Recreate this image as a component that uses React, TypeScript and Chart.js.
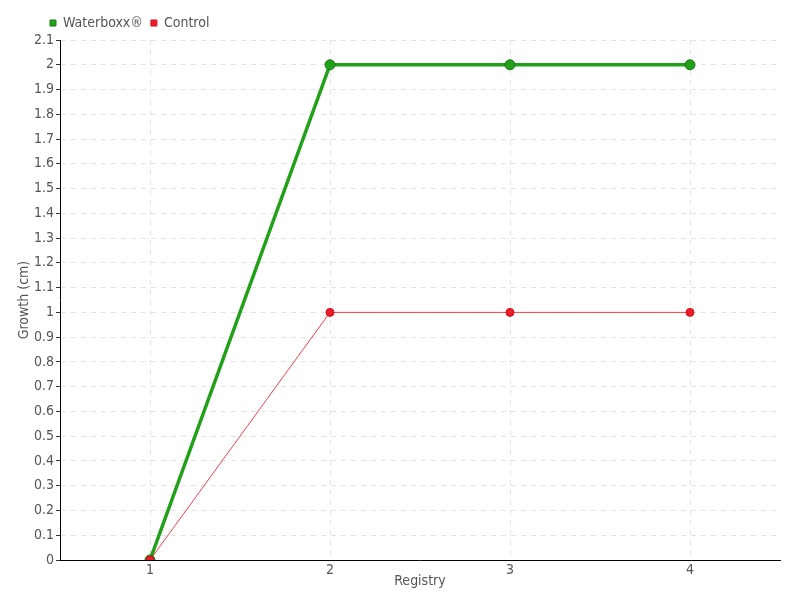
import React, { useEffect, useRef } from "react";
import { Chart, registerables } from "chart.js";
Chart.register(...registerables);

const categories = ["1", "2", "3", "4"];
const waterboxx = [0, 2, 2, 2];
const control = [0, 1, 1, 1];
const yMin = 0;
const yMax = 2.1;
const yStep = 0.1;

const FONT = "'DejaVu Sans Condensed', 'DejaVu Sans', sans-serif";
const F = (size: number) => ({ family: FONT, size });

const legendShift = {
  id: "legendShift",
  afterLayout(chart: any) {
    if (chart.legend) {
      chart.legend.left = 42;
    }
  },
};

export default function App() {
  const ref = useRef<HTMLCanvasElement | null>(null);
  useEffect(() => {
    if (!ref.current) return;
    const chart = new Chart(ref.current, {
      type: "line",
      data: {
        labels: categories,
        datasets: [
          {
            label: "Waterboxx®",
            data: waterboxx,
            borderColor: "#22a01a",
            backgroundColor: "#22a01a",
            borderWidth: 3.5,
            pointRadius: 5,
            pointBackgroundColor: "#22a01a",
            pointBorderColor: "#1a7a12",
            pointBorderWidth: 1,
            order: 1,
          },
          {
            label: "Control",
            data: control,
            borderColor: "rgba(240,30,45,0.85)",
            backgroundColor: "#ee1c2a",
            borderWidth: 1,
            pointRadius: 4,
            pointBackgroundColor: "#ee1c2a",
            pointBorderColor: "#cc1020",
            pointBorderWidth: 1,
            order: 0,
          },
        ],
      },
      options: {
        animation: false,
        responsive: false,
        maintainAspectRatio: false,
        layout: { padding: { top: 8, right: 20, left: 0, bottom: 0 } },
        plugins: {
          legend: {
            position: "top",
            align: "start",
            labels: {
              usePointStyle: true,
              pointStyle: "rect",
              boxWidth: 6,
              boxHeight: 6,
              padding: 8,
              color: "#555",
              font: F(14),
              sort: (a: any, b: any) => a.datasetIndex - b.datasetIndex,
            },
          },
          tooltip: { enabled: false },
        },
        scales: {
          x: {
            offset: true,
            grid: {
              color: "#e3e3e3",
              drawTicks: false,
            },
            border: { display: true, color: "#000", width: 1, dash: [5, 5] },
            ticks: {
              color: "#555",
              padding: 2,
              font: F(14),
            },
            title: {
              display: true,
              text: "Registry",
              color: "#555",
              padding: { top: 0, bottom: 10 },
              font: F(14),
            },
            afterFit: (s: any) => {
              s.height = 40;
            },
          },
          y: {
            min: yMin,
            max: yMax,
            grid: {
              color: "#e3e3e3",
              tickColor: "#333",
              tickLength: 4,
              tickBorderDash: [],
            },
            border: { display: true, color: "#000", width: 1, dash: [5, 5] },
            ticks: {
              stepSize: yStep,
              color: "#555",
              padding: 2,
              font: F(14),
              callback: (v: any) => String(Number(Number(v).toFixed(1))),
            },
            title: {
              display: true,
              text: "Growth (cm)",
              color: "#555",
              padding: { top: 16, bottom: 0 },
              font: F(14),
            },
            afterFit: (s: any) => {
              s.width = 60;
            },
          },
        },
      },
      plugins: [legendShift],
    });
    return () => chart.destroy();
  }, []);
  return (
    <div style={{ position: "fixed", left: 0, top: 0, width: 800, height: 600, background: "#fff" }}>
      <canvas ref={ref} width={800} height={600} style={{ width: 800, height: 600 }} />
    </div>
  );
}
